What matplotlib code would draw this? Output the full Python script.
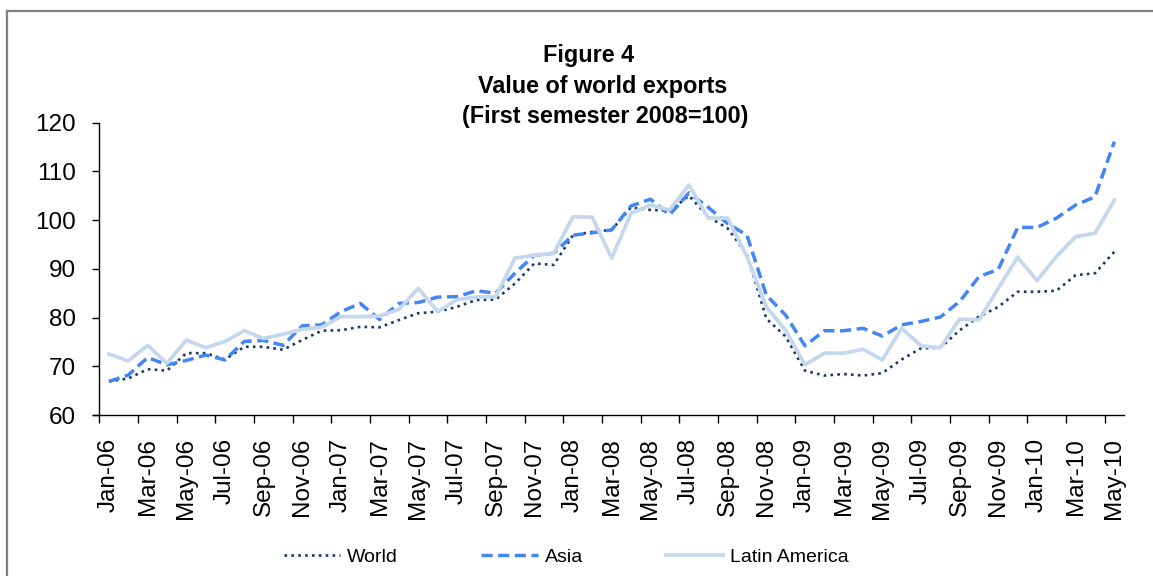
import matplotlib
matplotlib.use("Agg")
import matplotlib.pyplot as plt
from matplotlib.lines import Line2D

plt.rcParams['font.family'] = ['Liberation Sans', 'DejaVu Sans']

months = ["Jan", "Feb", "Mar", "Apr", "May", "Jun", "Jul", "Aug", "Sep", "Oct", "Nov", "Dec"]
years = ["06", "07", "08", "09", "10"]
categories = [f"{m}-{y}" for y in years for m in months][:53]

world = [66.9, 67.5, 69.4, 69.1, 72.7, 72.7, 71.4, 74.0, 74.0, 73.4, 75.4, 77.3,
         77.4, 78.1, 78.0, 79.5, 80.9, 81.2, 82.2, 83.6, 83.7, 87.0, 91.1, 90.8,
         96.9, 97.6, 98.0, 102.6, 102.1, 101.9, 105.0, 100.7, 98.3, 93.0, 79.8, 76.1,
         69.1, 68.1, 68.4, 68.1, 68.6, 71.4, 73.7, 73.8, 77.4, 80.2, 82.2, 85.3,
         85.3, 85.5, 88.7, 89.1, 93.5]
asia = [66.9, 68.2, 71.8, 70.3, 71.2, 72.3, 71.3, 75.1, 75.3, 74.3, 78.3, 78.5,
        81.2, 82.9, 79.6, 82.9, 83.1, 84.2, 84.3, 85.5, 85.0, 89.1, 92.8, 93.2,
        96.9, 97.4, 98.0, 102.9, 104.3, 101.1, 105.6, 102.6, 99.3, 96.9, 84.6, 80.5,
        74.2, 77.3, 77.3, 77.8, 76.2, 78.5, 79.2, 80.1, 83.3, 88.4, 89.9, 98.5,
        98.5, 100.4, 103.1, 104.8, 116.1]
latin = [72.5, 71.1, 74.3, 70.6, 75.4, 73.8, 75.1, 77.3, 75.7, 76.6, 77.6, 78.0,
         80.2, 80.2, 80.3, 81.7, 86.0, 81.2, 83.7, 84.2, 84.3, 92.2, 92.8, 93.2,
         100.7, 100.6, 92.2, 101.4, 103.1, 102.1, 107.2, 100.4, 100.4, 92.5, 82.2, 77.4,
         70.3, 72.7, 72.7, 73.5, 71.3, 77.8, 74.2, 73.8, 79.7, 79.5, 86.0, 92.4,
         87.6, 92.5, 96.6, 97.3, 104.1]

series_names = ["World", "Asia", "Latin America"]
title_lines = ["Figure 4", "Value of world exports", "(First semester 2008=100)"]

W, H = 1153, 576
fig = plt.figure(figsize=(W / 100, H / 100), dpi=100)
ax = fig.add_axes([99.3 / W, 1 - 415 / H, (1124 - 99.3) / W, (415 - 122.7) / H])

x = list(range(len(categories)))
ax.plot(x, world, color="#1A3A66", lw=1.9, linestyle=(0, (1, 1.6)), label=series_names[0])
ax.plot(x, asia, color="#4485F5", lw=2.5, linestyle=(0, (3.2, 1.6)), label=series_names[1])
ax.plot(x, latin, color="#C5D7EC", lw=2.7, label=series_names[2])

ax.set_xlim(-0.5, len(categories) - 0.5)
ax.set_ylim(60, 120)
ax.set_yticks(range(60, 121, 10))
ax.tick_params(axis='y', labelsize=17.5, length=5, width=1, direction='out', pad=12)

ax.set_xticks([i - 0.5 for i in range(0, len(categories), 2)])
ax.set_xticklabels([])
ax.set_xticks(list(range(0, len(categories), 2)), minor=True)
ax.set_xticklabels(categories[::2], minor=True, rotation=90, fontsize=17.5)
ax.tick_params(axis='x', which='major', length=6, width=1, direction='out')
ax.tick_params(axis='x', which='minor', length=0, pad=16.5)

for s in ["top", "right"]:
    ax.spines[s].set_visible(False)
for s in ["left", "bottom"]:
    ax.spines[s].set_linewidth(1)
    ax.spines[s].set_color("black")
ax.spines["bottom"].set_bounds(-0.84, len(categories) - 0.5)

title_x = [589, 603, 605]
title_y = [61.7, 93, 123.5]
for t, tx, ty in zip(title_lines, title_x, title_y):
    fig.text(tx / W, 1 - ty / H, t, ha='center', va='baseline', fontsize=16.8, fontweight='bold')

leg = fig.legend(loc='center', bbox_to_anchor=(566 / W, 1 - 557 / H), ncol=3, frameon=False,
                 fontsize=14, handlelength=2.9, handletextpad=0.35, columnspacing=4.3)

fig.add_artist(Line2D([7 / W, 7 / W], [1 - 11 / H, -0.05], color="#808080", lw=1.6,
                      transform=fig.transFigure))
fig.add_artist(Line2D([7 / W, 1.05], [1 - 11 / H, 1 - 11 / H], color="#808080", lw=1.6,
                      transform=fig.transFigure))

fig.savefig("out.png", dpi=100)
